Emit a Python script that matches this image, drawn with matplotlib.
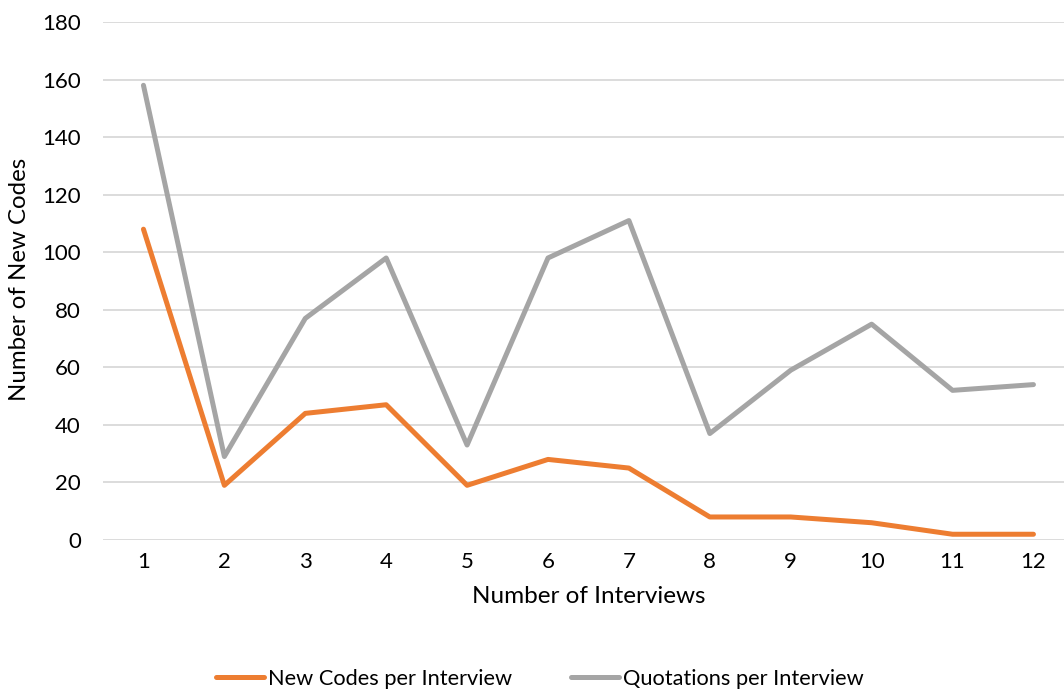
import matplotlib
matplotlib.use("Agg")
import matplotlib.pyplot as plt

interviews = list(range(1, 13))
new_codes = [108, 19, 44, 47, 19, 28, 25, 8, 8, 6, 2, 2]
quotations = [158, 29, 77, 98, 33, 98, 111, 37, 59, 75, 52, 54]

plt.rcParams['font.family'] = ['Lato', 'DejaVu Sans']
W, H = 1064, 691
fig = plt.figure(figsize=(W / 100, H / 100), dpi=100)
left = 103 / W
bottom = (H - 540) / H
top = (H - 22) / H
sp = (1034 - 144) / 11
width = 12 * sp / W
ax = fig.add_axes([left, bottom, width, top - bottom])

ax.plot(interviews, new_codes, color='#ED7D31', lw=3.6, solid_capstyle='round', solid_joinstyle='round', label='New Codes per Interview')
ax.plot(interviews, quotations, color='#A5A5A5', lw=3.6, solid_capstyle='round', solid_joinstyle='round', label='Quotations per Interview')

ax.set_xlim(0.5, 12.5)
ax.set_ylim(0, 180)
ax.set_yticks(range(0, 181, 20))
ax.set_xticks(interviews)
ax.grid(axis='y', color='#D9D9D9', lw=1.3)
ax.set_axisbelow(True)
for s in ax.spines.values():
    s.set_visible(False)
ax.tick_params(length=0, labelsize=16, colors='#000000', pad=9)
ax.tick_params(axis='y', pad=16)
ax.set_xlabel('Number of Interviews', fontsize=17.5, labelpad=10)
fig.text(20 / W, (H - 279) / H, 'Number of New Codes', fontsize=17.3, rotation=90,
         ha='center', va='center')

leg = fig.legend(loc='center', bbox_to_anchor=(540 / W, (H - 679) / H), ncol=2, frameon=False,
                 fontsize=15.7, handlelength=2.2, handletextpad=0.2, columnspacing=2.7)
fig.savefig('out.png', dpi=100)
